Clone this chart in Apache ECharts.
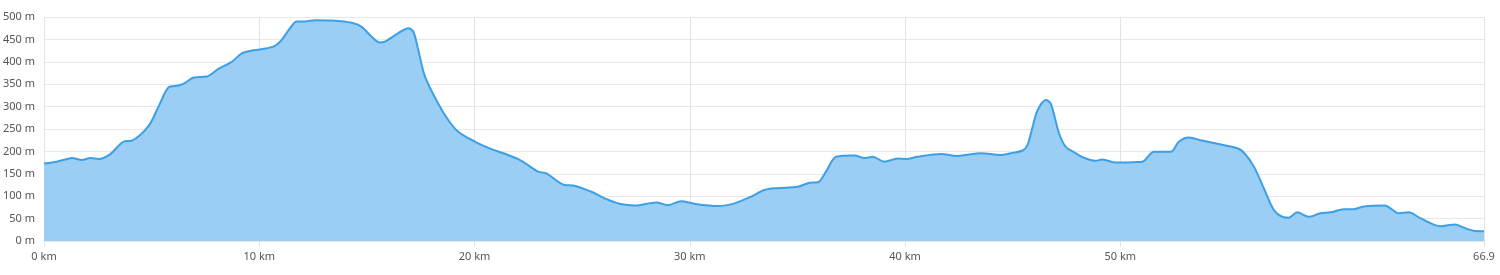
<!DOCTYPE html>
<html>
<head>
<meta charset="utf-8">
<script src="https://cdn.jsdelivr.net/npm/echarts@6/dist/echarts.min.js"></script>
<style>html,body{margin:0;padding:0;background:#fff}#c{width:1500px;height:275px}</style>
</head>
<body>
<div id="c"></div>
<script>
var distanceKm = [0,0.37,0.99,1.3,1.76,2.15,2.54,3.08,3.7,4.08,4.86,5.32,5.79,6.25,6.56,6.95,7.56,8.1,8.72,9.19,9.65,10.1,10.7,11.04,11.43,11.74,12.13,12.59,13.36,14.29,14.76,15.22,15.6,15.84,16.46,16.92,17.16,17.39,17.7,18.31,18.78,19.24,20.01,20.79,21.56,22.18,22.95,23.34,24.19,24.58,25.43,26.05,26.74,27.44,28.45,28.99,29.6,30.22,31.3,32.08,32.85,33.47,34.09,35.02,35.56,35.95,36.33,36.8,37.65,38.11,38.5,39.04,39.66,40.05,40.59,41.67,42.44,43.53,44.45,44.92,45.46,45.69,45.93,46.16,46.54,46.77,47.16,47.47,47.86,48.25,48.86,49.17,49.79,50.64,51.03,51.57,52.34,52.73,53.19,53.74,54.51,55.44,55.75,56.21,56.67,57.14,57.6,57.83,58.22,58.76,59.3,59.77,60.38,60.85,61.31,62.32,62.55,62.94,63.4,63.94,64.87,65.57,65.95,66.42,66.9];
var elevationM = [173,175,182,185,181,185,183,194,222,224,257,300,343,347,353,365,367,384,400,419,425,428,435,449,475,490,490,493,492,487,478,456,443,445,464,475,467,426,367,307,270,244,222,205,192,179,155,151,125,124,110,95,83,79,86,80,89,83,78,84,99,114,118,121,130,131,155,188,191,185,188,177,184,183,188,194,190,196,192,196,202,214,255,292,315,307,240,210,198,187,179,182,175,176,177,199,199,222,231,225,217,207,197,166,118,69,53,52,64,54,62,64,71,71,77,79,73,62,64,51,33,37,30,23,22];
var xTicks = [0,10,20,30,40,50,66.9];
var yTicks = [0,50,100,150,200,250,300,350,400,450,500];

var pts = distanceKm.map(function(d,i){return [d, elevationM[i]];});
var chart = echarts.init(document.getElementById('c'), null, {renderer:'canvas'});
chart.setOption({
  animation:false,
  grid:{left:42,right:16,top:17,bottom:34,containLabel:false},
  xAxis:{
    type:'value', min:0, max:66.9,
    axisLine:{show:false},
    axisTick:{show:true, length:6, lineStyle:{color:'#e3e3e3'}, customValues:xTicks},
    axisLabel:{customValues:xTicks, color:'#555', fontSize:11, fontFamily:'Noto Sans', margin:10,
      formatter:function(v){return v===66.9?'66.9':v+' km';}},
    splitLine:{show:true, lineStyle:{color:'#e3e3e3', width:1}}
  },
  yAxis:{
    type:'value', min:0, max:500, interval:50,
    axisLine:{show:false}, axisTick:{show:false},
    axisLabel:{color:'#555', fontSize:11, fontFamily:'Noto Sans', margin:9, formatter:'{value} m'},
    splitLine:{show:true, lineStyle:{color:'#e8e8e8', width:1}}
  },
  series:[{
    type:'line', data:pts, smooth:0.3, symbol:'none',
    lineStyle:{color:'#3d9fe6', width:2},
    areaStyle:{color:'#9acef4', opacity:1}
  }]
});
</script>
</body>
</html>
